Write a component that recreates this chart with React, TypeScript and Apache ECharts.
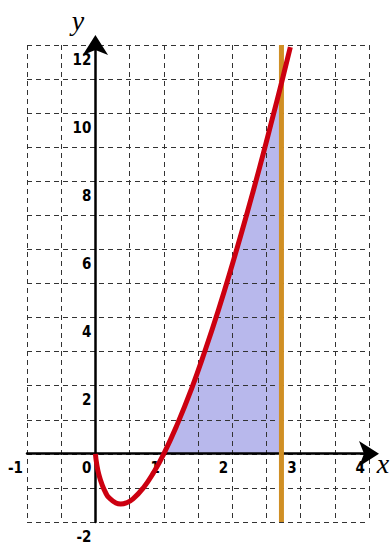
import React, { useEffect, useRef } from "react";
import * as echarts from "echarts";

// curve points
const curveX = [0, 0.02, 0.05, 0.1, 0.15, 0.2, 0.3, 0.37, 0.45, 0.55, 0.7, 0.85, 1, 1.2, 1.4, 1.6, 1.8, 2, 2.2, 2.4, 2.6, 2.72, 2.85];
const curveY = [0, -0.31, -0.6, -0.92, -1.14, -1.29, -1.44, -1.47, -1.44, -1.32, -1.0, -0.55, 0, 0.88, 1.88, 3.01, 4.23, 5.55, 6.94, 8.4, 9.94, 10.88, 11.94];

// shaded region bounds and vertical line position
const areaFrom = 1;
const boundX = 2.72;

// axis ranges and labels
const xMin = -1;
const xMax = 4;
const yMin = -2;
const yMax = 12;
const xLabelValues = [-1, 0, 1, 2, 3, 4];
const yLabelValues = [-2, 2, 4, 6, 8, 10, 12];
const xName = "x";
const yName = "y";

const GRID = { left: 27, top: 45, width: 342, height: 478 };
const labelFont = "'DejaVu Sans Condensed', 'Liberation Sans Narrow', 'DejaVu Sans', sans-serif";

export default function App() {
  const ref = useRef<HTMLDivElement>(null);

  useEffect(() => {
    if (!ref.current) return;
    const chart = echarts.init(ref.current, undefined, { renderer: "svg" });

    const curve = curveX.map((x, i) => [x, curveY[i]]);
    const area = curve.filter(([x]) => x >= areaFrom && x <= boundX);

    // place the axes through the origin (labels follow the axis line)
    const yAxisOffset = -((0 - xMin) / (xMax - xMin)) * GRID.width;
    const xAxisOffset = -((0 - yMin) / (yMax - yMin)) * GRID.height;

    const splitLine = {
      show: true,
      lineStyle: { color: "#333", width: 1, type: [5, 4] as any },
    };

    const axisLine = {
      show: true,
      onZero: false,
      symbol: ["none", "arrow"],
      symbolSize: [19, 20],
      symbolOffset: [0, 10],
      lineStyle: { color: "#000", width: 2.5 },
    };

    const labelStyle = {
      color: "#000",
      fontFamily: labelFont,
      fontWeight: "bold",
      fontSize: 15,
    };

    chart.setOption({
      animation: false,
      backgroundColor: "#fff",
      grid: { ...GRID, containLabel: false },
      xAxis: {
        type: "value",
        min: xMin,
        max: xMax,
        interval: 0.5,
        position: "bottom",
        offset: xAxisOffset,
        z: 2,
        axisLine,
        axisTick: { show: false },
        splitLine,
        axisLabel: {
          margin: 7,
          align: "right",
          padding: [0, 4, 0, 0],
          ...labelStyle,
          formatter: (v: number) => (xLabelValues.includes(v) ? String(v) : ""),
        },
      },
      yAxis: {
        type: "value",
        min: yMin,
        max: yMax,
        interval: 1,
        position: "left",
        offset: yAxisOffset,
        z: 2,
        axisLine,
        axisTick: { show: false },
        splitLine,
        axisLabel: {
          margin: 4,
          verticalAlign: "top",
          padding: [7, 0, 0, 0],
          ...labelStyle,
          formatter: (v: number) => (yLabelValues.includes(v) ? String(v) : ""),
        },
      },
      graphic: [
        {
          type: "text",
          x: 78,
          y: 20,
          style: {
            text: yName,
            align: "center",
            verticalAlign: "middle",
            fontFamily: "'Liberation Serif', serif",
            fontStyle: "italic",
            fontSize: 28,
            fill: "#000",
          },
        },
        {
          type: "text",
          x: 383,
          y: 463,
          style: {
            text: xName,
            align: "center",
            verticalAlign: "middle",
            fontFamily: "'Liberation Serif', serif",
            fontStyle: "italic",
            fontSize: 28,
            fill: "#000",
          },
        },
      ],
      series: [
        {
          type: "line",
          data: area,
          smooth: true,
          symbol: "none",
          lineStyle: { width: 0 },
          areaStyle: { color: "#b8b8ec", opacity: 1 },
          z: 1,
          silent: true,
        },
        {
          type: "line",
          data: [
            [boundX, yMin],
            [boundX, yMax],
          ],
          symbol: "none",
          lineStyle: { color: "#d08f24", width: 5 },
          z: 3,
          silent: true,
        },
        {
          type: "line",
          data: curve,
          smooth: true,
          symbol: "none",
          lineStyle: { color: "#cc0010", width: 5 },
          z: 4,
          silent: true,
        },
      ],
    });

    return () => chart.dispose();
  }, []);

  return (
    <div
      ref={ref}
      style={{ position: "absolute", left: 0, top: 0, width: 390, height: 544 }}
    />
  );
}
